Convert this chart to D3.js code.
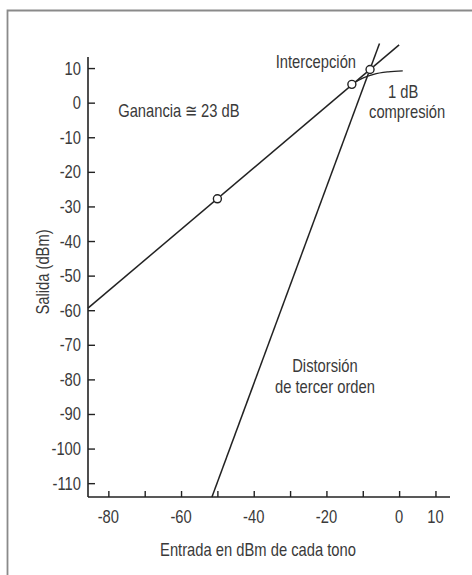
<!DOCTYPE html>
<html><head><meta charset="utf-8">
<script src="https://cdn.jsdelivr.net/npm/d3@7"></script>
<style>
html,body{margin:0;padding:0;background:#fff;}
svg text{font-family:"Liberation Sans Narrow","Arial Narrow","Liberation Sans",Arial,sans-serif;fill:#3a3a3a;}
</style></head>
<body><svg id="c" width="472" height="575"></svg>
<script>
const xTicks = [-80,-70,-60,-50,-40,-30,-20,-10,0,10];
const xTickLabels = [-80,-60,-40,-20,0,10];
const yTicks = [10,0,-10,-20,-30,-40,-50,-60,-70,-80,-90,-100,-110];
const gainLine = [[-85.6,-59.4],[0,16.7]];
const thirdOrder = [[-51.5,-114],[-5.4,17.1]];
const compression = [[-13,5.3],[-10,7.1],[-7,8.2],[-3,8.9],[1,9.2]];
const markers = [[-50,-27.8],[-13,5.3],[-8,9.6]];
const labels = [
  {t:"Intercepción", x:-22.9, y:10.0, a:"middle"},
  {t:"Ganancia ≅ 23 dB", x:-77.3, y:-4.1, a:"start"},
  {t:"1 dB", x:1.1, y:1.35, a:"middle"},
  {t:"compresión", x:2.2, y:-4.4, a:"middle"},
  {t:"Distorsión", x:-20.4, y:-77.9, a:"middle"},
  {t:"de tercer orden", x:-20.4, y:-83.9, a:"middle"}
];

const SX = 0.82; // condensed look
const svg = d3.select("#c");
const x = d3.scaleLinear().domain([-85.6,14]).range([88,450]);
const y = d3.scaleLinear().domain([-114,13.2]).range([497,57]);

// frame
svg.append("path").attr("d","M7.5,575 L7.5,10.5 L472,10.5")
  .attr("fill","none").attr("stroke","#8a8a8a").attr("stroke-width",1.8);

// axes
const xAxis = d3.axisTop(x).tickValues(xTicks).tickSize(6).tickFormat("");
svg.append("g").attr("transform",`translate(0,${y(-114)})`).call(xAxis)
  .call(g=>{g.select(".domain").attr("d",`M${x(-85.6)},0H${x(14)}`).attr("stroke","#222").attr("stroke-width",1.6);
            g.selectAll(".tick line").attr("stroke","#222").attr("stroke-width",1.4);});
const yAxis = d3.axisRight(y).tickValues(yTicks).tickSize(7).tickFormat("");
svg.append("g").attr("transform",`translate(${x(-85.6)},0)`).call(yAxis)
  .call(g=>{g.select(".domain").attr("d",`M0,${y(13.2)}V${y(-114)}`).attr("stroke","#222").attr("stroke-width",1.6);
            g.selectAll(".tick line").attr("stroke","#222").attr("stroke-width",1.4);});

// tick labels
svg.append("g").selectAll("text").data(xTickLabels).join("text")
  .attr("transform",d=>`translate(${x(d)},523) scale(${SX},1)`).attr("text-anchor","middle")
  .attr("font-size",18).text(d=>d);
svg.append("g").selectAll("text").data(yTicks).join("text")
  .attr("transform",d=>`translate(81,${y(d)+6.5}) scale(${SX},1)`).attr("text-anchor","end")
  .attr("font-size",18).text(d=>d);

// axis titles
svg.append("text").attr("transform",`translate(258,556) scale(${SX},1)`).attr("text-anchor","middle")
  .attr("font-size",18).text("Entrada en dBm de cada tono");
svg.append("text").attr("transform",`translate(49,272) rotate(-90) scale(${SX},1)`).attr("text-anchor","middle")
  .attr("font-size",18).text("Salida (dBm)");

// lines
const line = d3.line().x(d=>x(d[0])).y(d=>y(d[1]));
svg.append("path").attr("d",line(gainLine)).attr("fill","none").attr("stroke","#222").attr("stroke-width",1.5);
svg.append("path").attr("d",line(thirdOrder)).attr("fill","none").attr("stroke","#222").attr("stroke-width",1.5);
svg.append("path").attr("d",line.curve(d3.curveMonotoneX)(compression)).attr("fill","none").attr("stroke","#222").attr("stroke-width",1.3);

// markers
svg.append("g").selectAll("circle").data(markers).join("circle")
  .attr("cx",d=>x(d[0])).attr("cy",d=>y(d[1])).attr("r",4)
  .attr("fill","#fff").attr("stroke","#222").attr("stroke-width",1.4);

// annotations
svg.append("g").selectAll("text").data(labels).join("text")
  .attr("transform",d=>`translate(${x(d.x)},${y(d.y)}) scale(${SX},1)`).attr("text-anchor",d=>d.a)
  .attr("font-size",18).text(d=>d.t);
</script></body></html>
